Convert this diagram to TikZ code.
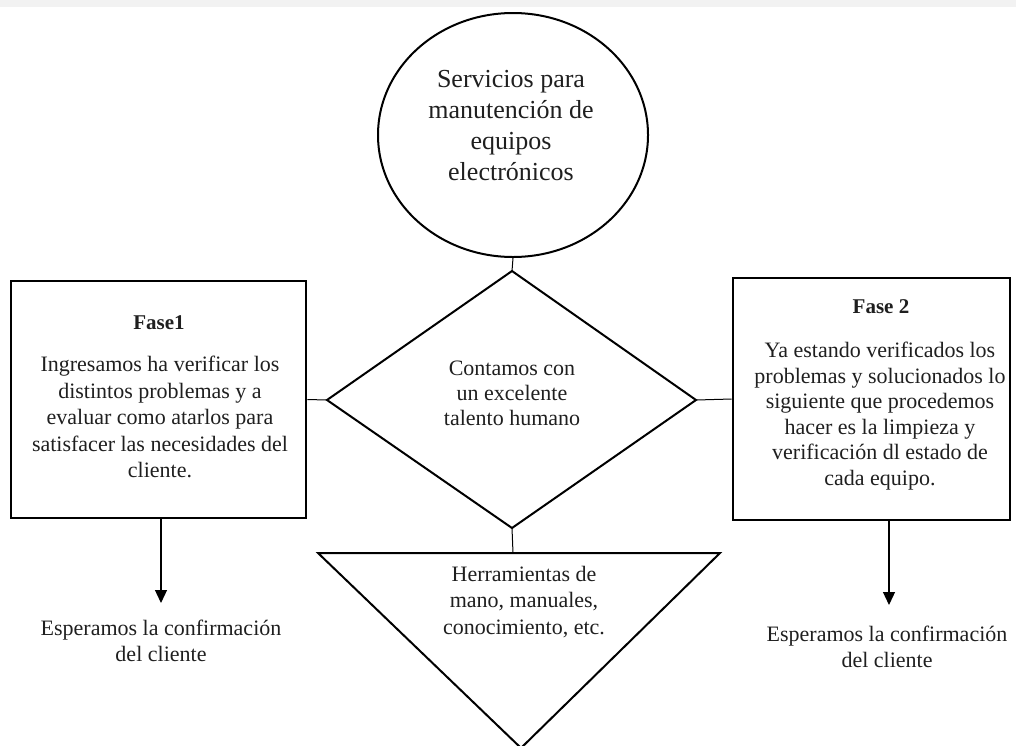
\documentclass[tikz,border=0pt]{standalone}
\usepackage{fontspec}
\setmainfont{Liberation Serif}
\usetikzlibrary{arrows.meta,shapes.geometric}
\begin{document}
\begin{tikzpicture}[x=1pt,y=-1pt,
  txt/.style={text=black!88, align=center, inner sep=0pt, font=\fontsize{22}{26.5}\selectfont},
  bigtxt/.style={text=black!88, align=center, inner sep=0pt, font=\fontsize{26}{31}\selectfont},
  ttl/.style={text=black!88, align=center, inner sep=0pt, font=\bfseries\fontsize{21}{26}\selectfont},
  phasebox/.style={draw, line width=2.6pt, rectangle, inner sep=0pt},
  outline/.style={draw, line width=2pt, line join=miter},
  conn/.style={draw, line width=1pt},
  arr/.style={draw, line width=1.2pt, -{Triangle[width=12pt,length=13pt]}}
]
\useasboundingbox (0,0) rectangle (1016,745);
\fill[black!5] (0,0) rectangle (1016,7);

% top ellipse
\node[ellipse, outline, minimum width=270pt, minimum height=244pt, inner sep=0pt] (circ) at (513,135) {};
\node[bigtxt] (ctext) at (511,126) {Servicios para\\manutención de\\equipos\\electrónicos};

% diamond
\coordinate (dT) at (512,271);
\coordinate (dL) at (327,400);
\coordinate (dR) at (696,400);
\coordinate (dB) at (512,528);
\draw[outline] (dT) -- (dR) -- (dB) -- (dL) -- cycle;
\node[txt, font=\fontsize{22}{25}\selectfont] (dtext) at (512,393) {Contamos con\\un excelente\\talento humano};

% inverted triangle
\coordinate (tL) at (318,553);
\coordinate (tR) at (720,553);
\coordinate (tB) at (521,748);
\coordinate (tT) at (513,553);
\draw[outline] (tL) -- (tR) -- (tB) -- cycle;
\node[txt] (ttext) at (524,602) {Herramientas de\\mano, manuales,\\conocimiento, etc.};

% left box
\node[phasebox, minimum width=295pt, minimum height=237pt] (f1box) at (158.5,399.5) {};
\node[ttl] (f1title) at (159,323) {Fase1};
\node[txt] (f1body) at (160,417) {Ingresamos ha verificar los\\distintos problemas y a\\evaluar como atarlos para\\satisfacer las necesidades del\\cliente.};

% right box
\node[phasebox, minimum width=277pt, minimum height=242pt] (f2box) at (871.5,399) {};
\node[ttl] (f2title) at (881,307) {Fase 2};
\node[txt, font=\fontsize{22}{25.6}\selectfont] (f2body) at (880,416) {Ya estando verificados los\\problemas y solucionados lo\\siguiente que procedemos\\hacer es la limpieza y\\verificación dl estado de\\cada equipo.};

% connectors
\draw[conn] (circ.south) -- (dT);
\draw[conn] (dB) -- (tT);
\draw[conn] (f1box.east) -- (dL);
\draw[conn] (dR) -- (f2box.west);

% outputs
\node[txt] (w1) at (161,641) {Esperamos la confirmación\\del cliente};
\node[txt] (w2) at (887,647) {Esperamos la confirmación\\del cliente};
\coordinate (a1s) at (161,518);
\coordinate (a1e) at (161,603);
\coordinate (a2s) at (889,520);
\coordinate (a2e) at (889,605);
\draw[arr] (a1s) -- (a1e);
\draw[arr] (a2s) -- (a2e);
\end{tikzpicture}
\end{document}
